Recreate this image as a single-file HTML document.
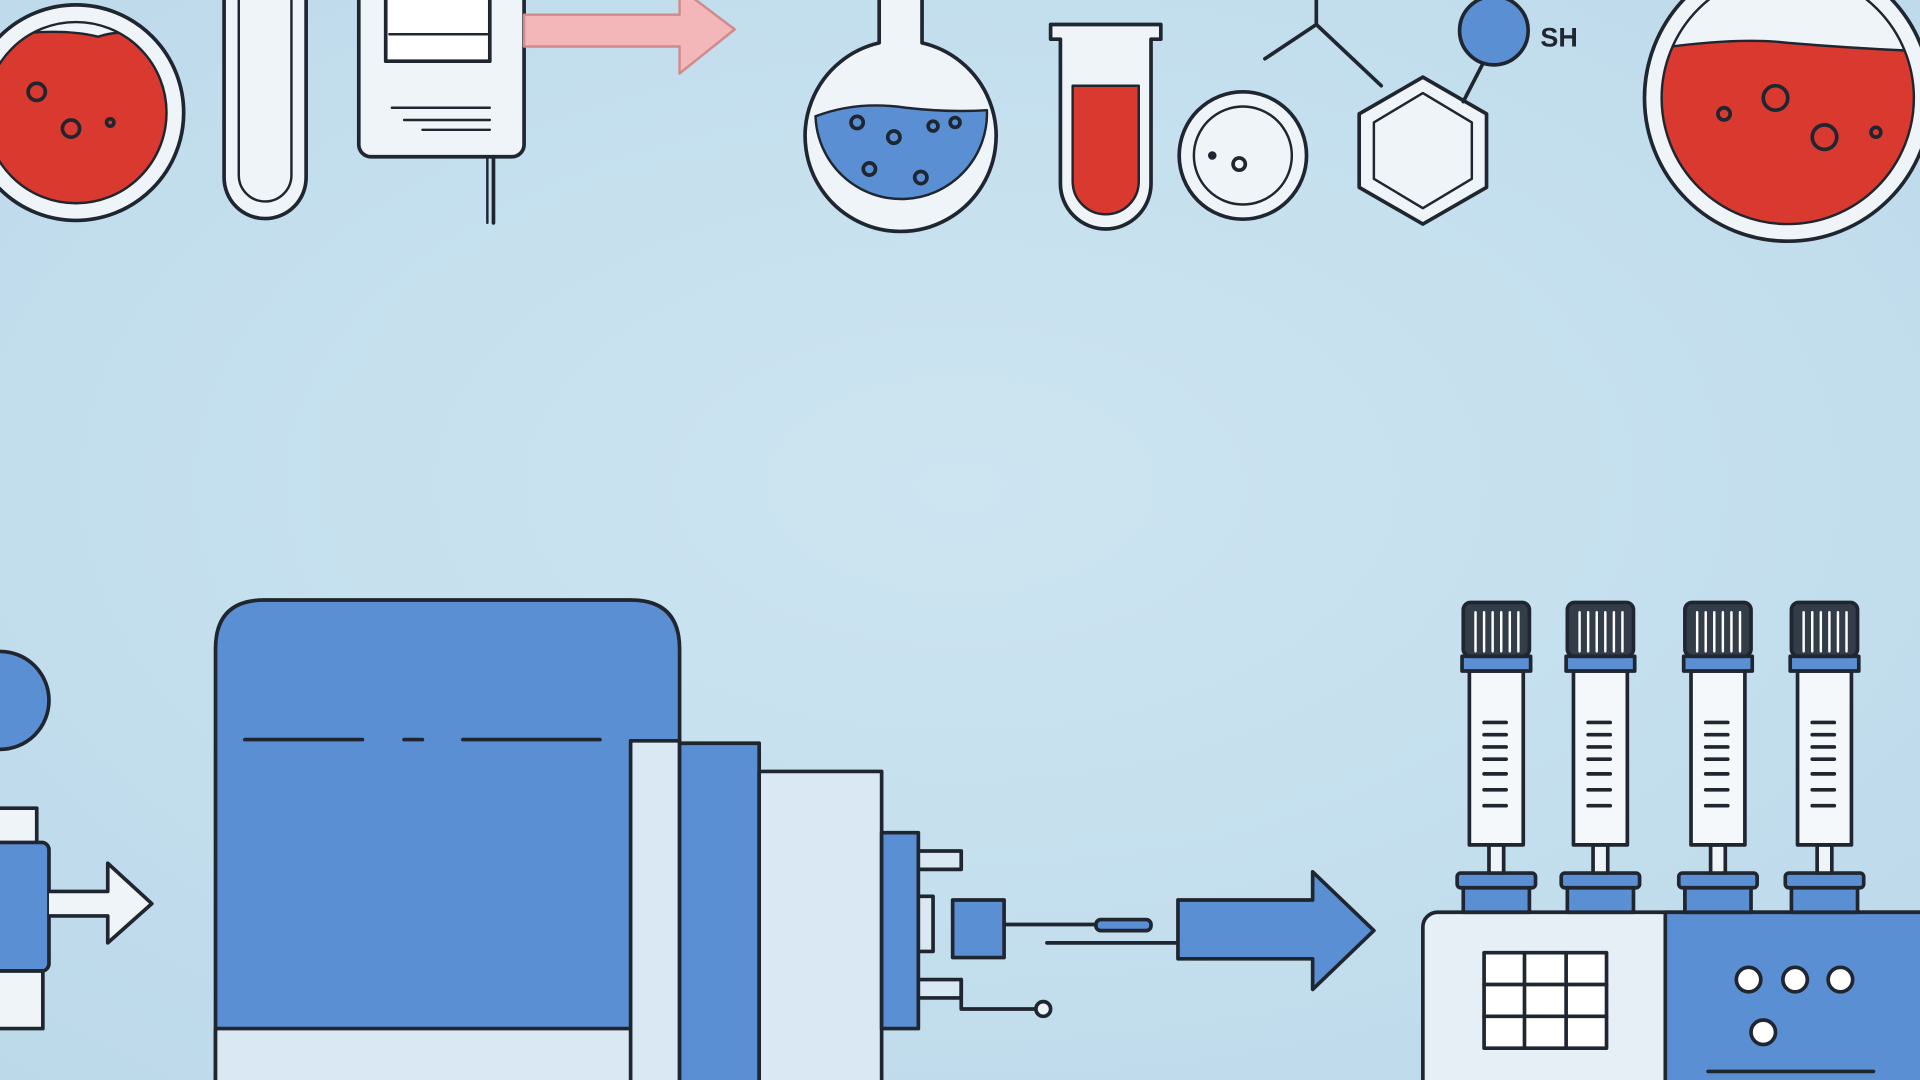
<!DOCTYPE html>
<html><head><meta charset="utf-8"><style>
html,body{margin:0;padding:0;width:1920px;height:1080px;overflow:hidden;background:#c6e0ee}
svg{display:block}
</style></head><body>
<svg width="1920" height="1080" viewBox="0 0 1568 882" preserveAspectRatio="none" xmlns="http://www.w3.org/2000/svg">
<defs>
<radialGradient id="bg" cx="50%" cy="45%" r="75%"><stop offset="0" stop-color="#cde5f1"/><stop offset="1" stop-color="#bcd9ea"/></radialGradient>
<clipPath id="c1"><circle cx="62" cy="92" r="74"/></clipPath>
<clipPath id="c2"><circle cx="1460" cy="80" r="103"/></clipPath>
</defs>
<rect width="1568" height="882" fill="url(#bg)"/>
<g stroke="#1f2630" stroke-width="3" stroke-linejoin="round" stroke-linecap="round">
<!-- left red dish -->
<circle cx="62" cy="92" r="88" fill="#eef4f8"/>
<path d="M-30 35 Q40 20 80 30 Q110 20 145 40 V200 H-30 Z" fill="#d9392f" stroke-width="2" clip-path="url(#c1)"/>
<circle cx="62" cy="92" r="74" fill="none" stroke-width="2"/>
<circle cx="30" cy="75" r="7" fill="none"/><circle cx="58" cy="105" r="7" fill="none"/><circle cx="90" cy="100" r="3" fill="none"/>
<!-- test tube -->
<path d="M183 -5 V145 A33 33 0 0 0 250 145 V-5" fill="#eef4f8"/>
<path d="M195 -5 V143 A21 21 0 0 0 238 143 V-5" fill="none" stroke-width="2"/>
<!-- document device -->
<rect x="293" y="-10" width="135" height="138" rx="10" fill="#eef4f8"/>
<rect x="315" y="-5" width="85" height="55" fill="#fff"/>
<line x1="318" y1="28" x2="398" y2="28" stroke-width="2"/>
<line x1="320" y1="88" x2="400" y2="88" stroke-width="2"/><line x1="330" y1="98" x2="400" y2="98" stroke-width="2"/><line x1="345" y1="106" x2="400" y2="106" stroke-width="2"/>
<line x1="403" y1="128" x2="403" y2="182"/><line x1="398" y1="128" x2="398" y2="182" stroke-width="2"/>
<!-- pink arrow -->
<path d="M428 12 H555 V-10 L600 24 L555 60 V38 H428 Z" fill="#f3b7b9" stroke="#d08a8c" stroke-width="2"/>
<!-- round flask -->
<path d="M718 -5 V35 A78 78 0 1 0 753 35 V-5" fill="#eef4f8"/>
<path d="M666 95 Q700 82 740 88 Q775 92 806 90 A70 70 0 0 1 666 95 Z" fill="#5b8fd4" stroke-width="2"/>
<circle cx="700" cy="100" r="5" fill="none"/><circle cx="730" cy="112" r="5" fill="none"/><circle cx="762" cy="103" r="4" fill="none"/><circle cx="710" cy="138" r="5" fill="none"/><circle cx="752" cy="145" r="5" fill="none"/><circle cx="780" cy="100" r="4" fill="none"/>
<!-- red test tube -->
<path d="M858 20 H948 V32 H940 V150 A37 37 0 0 1 866 150 V32 H858 Z" fill="#eef4f8"/>
<path d="M876 70 H930 V148 A27 27 0 0 1 876 148 Z" fill="#d9392f" stroke-width="2"/>
<!-- petri -->
<circle cx="1015" cy="127" r="52" fill="#eef4f8"/><circle cx="1015" cy="127" r="40" fill="none" stroke-width="2"/>
<circle cx="1012" cy="134" r="5" fill="none"/><circle cx="990" cy="127" r="2" fill="#1f2630"/>
<!-- molecule -->
<line x1="1033" y1="48" x2="1075" y2="20"/><line x1="1075" y1="20" x2="1128" y2="70"/><line x1="1075" y1="20" x2="1075" y2="-5"/>
<polygon points="1162,63 1214,93 1214,153 1162,183 1110,153 1110,93" fill="#eef4f8"/>
<polygon points="1162,76 1202,100 1202,146 1162,170 1122,146 1122,100" fill="none" stroke-width="2"/>
<line x1="1195" y1="83" x2="1212" y2="50"/>
<circle cx="1220" cy="25" r="28" fill="#5b8fd4"/>
<!-- right red dish -->
<circle cx="1460" cy="80" r="117" fill="#eef4f8"/>
<path d="M1350 40 Q1420 30 1460 35 Q1520 40 1575 42 V200 H1350 Z" fill="#d9392f" stroke-width="2" clip-path="url(#c2)"/>
<circle cx="1460" cy="80" r="103" fill="none" stroke-width="2"/>
<circle cx="1450" cy="80" r="10" fill="none"/><circle cx="1490" cy="112" r="10" fill="none"/><circle cx="1408" cy="93" r="5" fill="none"/><circle cx="1532" cy="108" r="4" fill="none"/>
<!-- left bottom partial -->
<circle cx="0" cy="572" r="40" fill="#5b8fd4"/>
<rect x="-5" y="660" width="35" height="30" fill="#eef4f8"/>
<rect x="-5" y="688" width="45" height="105" rx="6" fill="#5b8fd4"/>
<rect x="-5" y="793" width="40" height="47" fill="#eef4f8"/>
<path d="M40 728 H88 V705 L124 738 L88 770 V748 H40" fill="#eef4f8"/>
<!-- big machine -->
<path d="M176 882 V530 Q176 490 216 490 H515 Q555 490 555 530 V882 Z" fill="#5b8fd4"/>
<rect x="176" y="840" width="340" height="50" fill="#d9e8f2"/>
<line x1="200" y1="604" x2="296" y2="604"/><line x1="330" y1="604" x2="345" y2="604"/><line x1="378" y1="604" x2="490" y2="604"/>
<rect x="515" y="605" width="40" height="280" fill="#d9e8f2"/>
<rect x="555" y="607" width="65" height="280" fill="#5b8fd4"/>
<rect x="620" y="630" width="100" height="260" fill="#d9e8f2"/>
<rect x="720" y="680" width="30" height="160" fill="#5b8fd4"/>
<rect x="750" y="695" width="35" height="15" fill="#d9e8f2"/>
<rect x="750" y="732" width="12" height="45" fill="#d9e8f2"/>
<rect x="750" y="800" width="35" height="15" fill="#d9e8f2"/>
<rect x="778" y="735" width="42" height="47" fill="#5b8fd4"/>
<line x1="820" y1="755" x2="895" y2="755"/><rect x="895" y="751" width="45" height="9" rx="4" fill="#5b8fd4"/>
<line x1="855" y1="770" x2="962" y2="770"/>
<polyline points="785,800 785,824 846,824" fill="none"/><circle cx="852" cy="824" r="6" fill="#eef4f8"/>
<!-- blue arrow -->
<path d="M962 735 H1072 V712 L1122 760 L1072 808 V783 H962 Z" fill="#5b8fd4"/>
<!-- base unit -->
<rect x="1162" y="745" width="420" height="150" rx="12" fill="#e6eff5"/>
<path d="M1360 745 H1570 V890 H1360 Z" fill="#5b8fd4"/>
<rect x="1212" y="778" width="100" height="78" fill="#fff"/>
<line x1="1245" y1="778" x2="1245" y2="856"/><line x1="1279" y1="778" x2="1279" y2="856"/><line x1="1212" y1="804" x2="1312" y2="804"/><line x1="1212" y1="830" x2="1312" y2="830"/>
<circle cx="1428" cy="800" r="10" fill="#fff"/><circle cx="1466" cy="800" r="10" fill="#fff"/><circle cx="1503" cy="800" r="10" fill="#fff"/><circle cx="1440" cy="843" r="10" fill="#fff"/>
<line x1="1395" y1="875" x2="1530" y2="875"/>
<!-- tubes -->
<g id="tubes">
<g transform="translate(1222,0)">
<rect x="-27" y="715" width="54" height="30" fill="#5b8fd4"/><rect x="-32" y="713" width="64" height="12" rx="3" fill="#5b8fd4"/>
<rect x="-6" y="690" width="12" height="23" fill="#eef4f8"/>
<rect x="-22" y="548" width="44" height="142" fill="#f4f8fb"/>
<rect x="-28" y="536" width="56" height="12" fill="#5b8fd4"/>
<rect x="-27" y="492" width="54" height="44" rx="6" fill="#333d4a"/>
<g stroke="#fff" stroke-width="2"><line x1="-17" y1="500" x2="-17" y2="532"/><line x1="-10" y1="500" x2="-10" y2="532"/><line x1="-3" y1="500" x2="-3" y2="532"/><line x1="4" y1="500" x2="4" y2="532"/><line x1="11" y1="500" x2="11" y2="532"/><line x1="18" y1="500" x2="18" y2="532"/></g>
<g stroke-width="3"><line x1="-10" y1="590" x2="8" y2="590"/><line x1="-10" y1="600" x2="8" y2="600"/><line x1="-10" y1="610" x2="8" y2="610"/><line x1="-10" y1="620" x2="8" y2="620"/><line x1="-10" y1="632" x2="8" y2="632"/><line x1="-10" y1="645" x2="8" y2="645"/><line x1="-10" y1="658" x2="8" y2="658"/></g>
</g>
</g>
<use href="#tubes" transform="translate(85,0)"/>
<use href="#tubes" transform="translate(181,0)"/>
<use href="#tubes" transform="translate(268,0)"/>
</g>
<text x="1258" y="38" font-family="Liberation Sans, sans-serif" font-size="22" font-weight="bold" fill="#1f2630">SH</text>
</svg>
</body></html>
